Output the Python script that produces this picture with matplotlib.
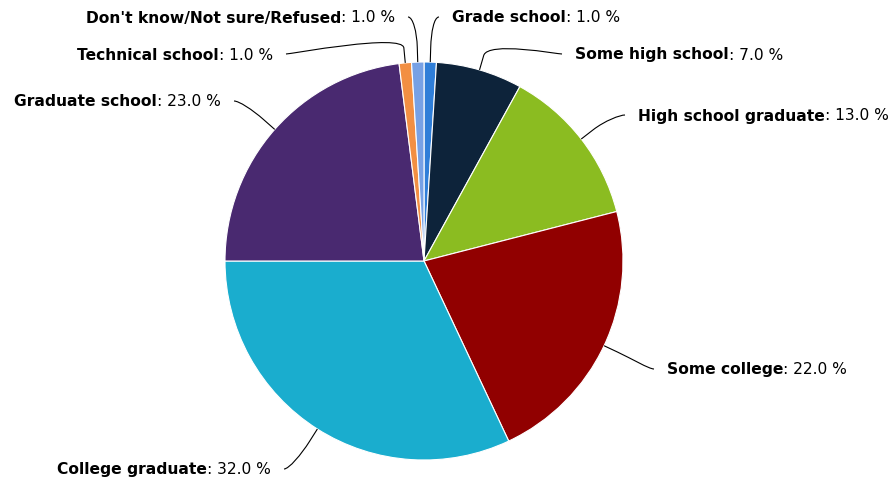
import numpy as np
import matplotlib.pyplot as plt
from matplotlib.path import Path
from matplotlib.patches import PathPatch

# data
categories = ["Grade school", "Some high school", "High school graduate", "Some college",
              "College graduate", "Graduate school", "Technical school",
              "Don't know/Not sure/Refused"]
values = [1.0, 7.0, 13.0, 22.0, 32.0, 23.0, 1.0, 1.0]
colors = ["#2f7ed8", "#0d233a", "#8bbc21", "#910000", "#1aadce", "#492970", "#f28f43", "#77a1e5"]

# label anchors in pixels (x, y from top, side)
label_pos = [(452, 18, "l"), (575, 55, "l"), (638, 116, "l"), (667, 370, "l"),
             (271, 470, "r"), (221, 102, "r"), (273, 55, "r"), (395, 18, "r")]

W, H = 892, 485
fig = plt.figure(figsize=(W / 100, H / 100), dpi=100)
ax = fig.add_axes([0, 0, 1, 1])

cx, cy, r = 424, H - 262, 199
wedges, _ = ax.pie(values, colors=colors, startangle=90, counterclock=False,
                   center=(cx, cy), radius=r, frame=True,
                   wedgeprops=dict(edgecolor="white", linewidth=0.8))
ax.set_xlim(0, W)
ax.set_ylim(0, H)
ax.set_aspect("equal")
ax.axis("off")

fig.canvas.draw()
renderer = fig.canvas.get_renderer()
fs = 11.2
brk = 15

for w, name, v, (lx, ly, side) in zip(wedges, categories, values, label_pos):
    ang = np.deg2rad((w.theta1 + w.theta2) / 2)
    d = np.array([np.cos(ang), np.sin(ang)])
    e = np.array([cx, cy]) + d * r
    b = e + d * brk
    y = H - ly
    rest = f": {v:.1f} %"
    if side == "l":
        t1 = ax.text(lx, y, name, fontsize=fs, fontweight="bold", ha="left", va="center")
        bb = t1.get_window_extent(renderer)
        ax.text(bb.x1, y, rest, fontsize=fs, ha="left", va="center")
        c = np.array([lx - 18, y])
        s = c + np.array([5, 0])
    else:
        t2 = ax.text(lx, y, rest, fontsize=fs, ha="right", va="center")
        bb = t2.get_window_extent(renderer)
        ax.text(bb.x0, y, name, fontsize=fs, fontweight="bold", ha="right", va="center")
        c = np.array([lx + 18, y])
        s = c - np.array([5, 0])
    path = Path([s, c, 2 * b - e, b, e],
                [Path.MOVETO, Path.CURVE4, Path.CURVE4, Path.CURVE4, Path.LINETO])
    ax.add_patch(PathPatch(path, fill=False, edgecolor="black", lw=0.8))

fig.savefig("out.png", dpi=100)
